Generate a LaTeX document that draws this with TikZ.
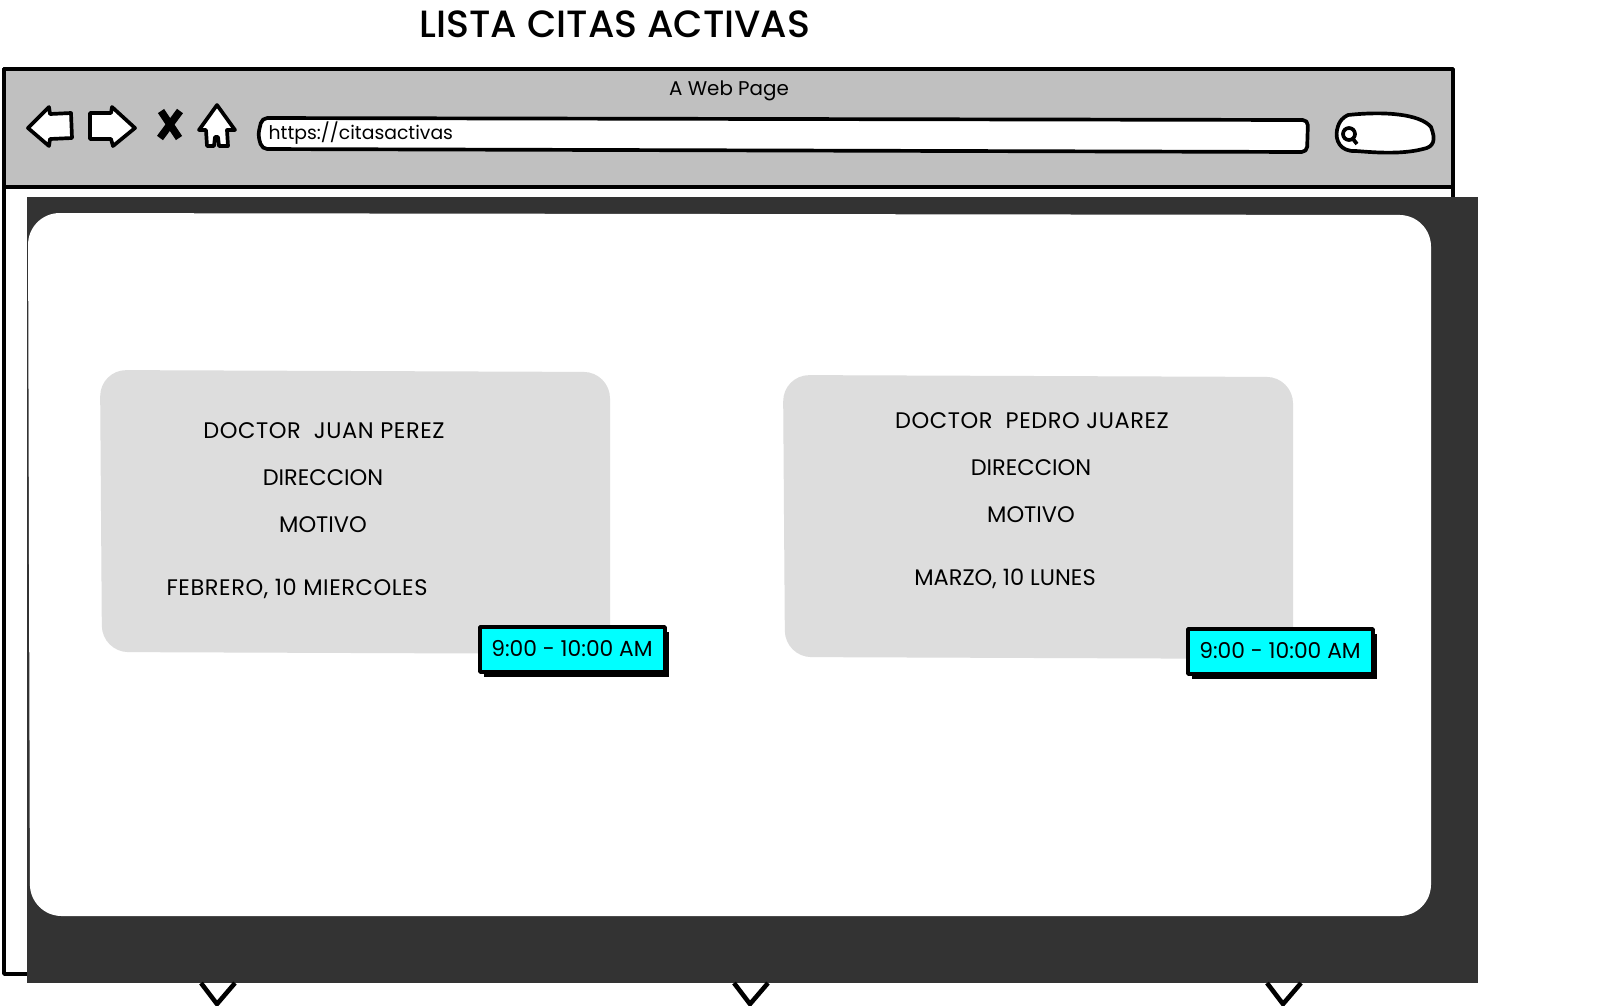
\documentclass[tikz,border=0pt]{standalone}
\usepackage{fontspec}
\setmainfont{Poppins}
\newfontfamily\titlefont{Poppins Medium}
\newfontfamily\widefont[LetterSpace=2.5]{Poppins}
\usetikzlibrary{calc}
\definecolor{barfill}{RGB}{192,192,192}
\definecolor{backdrop}{RGB}{51,51,51}
\definecolor{cardfill}{RGB}{221,221,221}
\definecolor{timefill}{RGB}{0,255,255}
\tikzset{sketch/.style={line width=1.05pt,line join=round},
 icon/.style={sketch,fill=white},
 label/.style={font=\fontsize{6.4}{7}\selectfont,inner sep=0pt},
 widelabel/.style={font=\widefont\fontsize{6.4}{7}\selectfont,inner sep=0pt},
 timelabel/.style={font=\fontsize{6.2}{7}\selectfont,inner sep=0pt}}
\begin{document}
\begin{tikzpicture}[x=.01cm,y=-.01cm]
\useasboundingbox (0,0) rectangle (1600,1005);
% browser window
\draw[sketch,fill=white] (4,69) rectangle (1453,974);
\draw[sketch,fill=barfill] (4,69) rectangle (1453,187);
\node[font=\fontsize{5.65}{7}\selectfont,inner sep=0pt] (pagetitle) at (729,91) {A Web Page};
\node[font=\titlefont\fontsize{10.8}{12}\selectfont,inner sep=0pt] (title) at (615,24) {LISTA CITAS ACTIVAS};
% toolbar icons
\draw[icon] (28,128)--(49,107)--(50,114)--(71,113)--(72,138)--(50,139)--(49,146)--cycle;
\draw[icon] (90,113)--(111,113)--(112,107)--(135,128)--(113,146)--(111,139)--(90,139)--cycle;
\draw[line width=2.1pt] (161,111)--(179,138) (180,111)--(160,138);
\draw[icon] (217,105)--(235,130)--(227,130)--(228,146)--(219,146)--(218,137)--(215,137)--(214,146)--(207,146)--(206,130)--(199,130)--cycle;
\draw[icon,rounded corners=1.5] (262,118)--(1308,120)--(1307,152)--(262,149)--(258,135)--cycle;
\draw[icon] (1348,115) .. controls (1385,111) and (1420,114) .. (1431,127) .. controls (1436,140) and (1434,147) .. (1423,149) .. controls (1400,155) and (1370,152) .. (1356,151) .. controls (1340,152) and (1335,140) .. (1337,130) .. controls (1339,120) and (1344,117) .. (1348,115) -- cycle;
\draw[sketch] (1349,134) circle (6) (1353,139)--(1357,144);
\node[font=\fontsize{5.35}{7}\selectfont,inner sep=0pt,right] (address) at (268,133) {https://citasactivas};
% backdrop and panel
\fill[backdrop] (27,197) rectangle (1478,983);
\fill[white,rounded corners=9] (28,213)--(1431,215)--(1431,916)--(30,916)--cycle;
\foreach \x in {217,750,1283}
  \draw[line width=1.3pt] (\x-16,983)--(\x,1004)--(\x+18,983);
% cards
\fill[cardfill,rounded corners=7.5] (100,370)--(610,372)--(610,654)--(102,652)--cycle;
\fill[cardfill,rounded corners=7.5] (783,375)--(1293,377)--(1293,659)--(785,657)--cycle;
\node[widelabel] (doctorA) at (324,431) {DOCTOR\ \ JUAN PEREZ};
\node[label] (addressA) at (323,478) {DIRECCION};
\node[label] (reasonA) at (323,525) {MOTIVO};
\node[widelabel] (dateA) at (297,589) {FEBRERO, 10 MIERCOLES};
\node[widelabel] (doctorB) at (1032,421) {DOCTOR\ \ PEDRO JUAREZ};
\node[label] (addressB) at (1031,468) {DIRECCION};
\node[label] (reasonB) at (1031,515) {MOTIVO};
\node[label] (dateB) at (1005,579) {MARZO, 10 LUNES};
% time tags
\foreach \x/\y/\n in {480/627/timeA,1188/629/timeB}{
  \fill[black] (\x+4,\y+5) rectangle (\x+189,\y+50);
  \draw[sketch,fill=timefill] (\x,\y) rectangle (\x+185,\y+45);
  \node[timelabel] (\n) at (\x+92,\y+22) {9:00 - 10:00 AM};
}
\end{tikzpicture}
\end{document}
